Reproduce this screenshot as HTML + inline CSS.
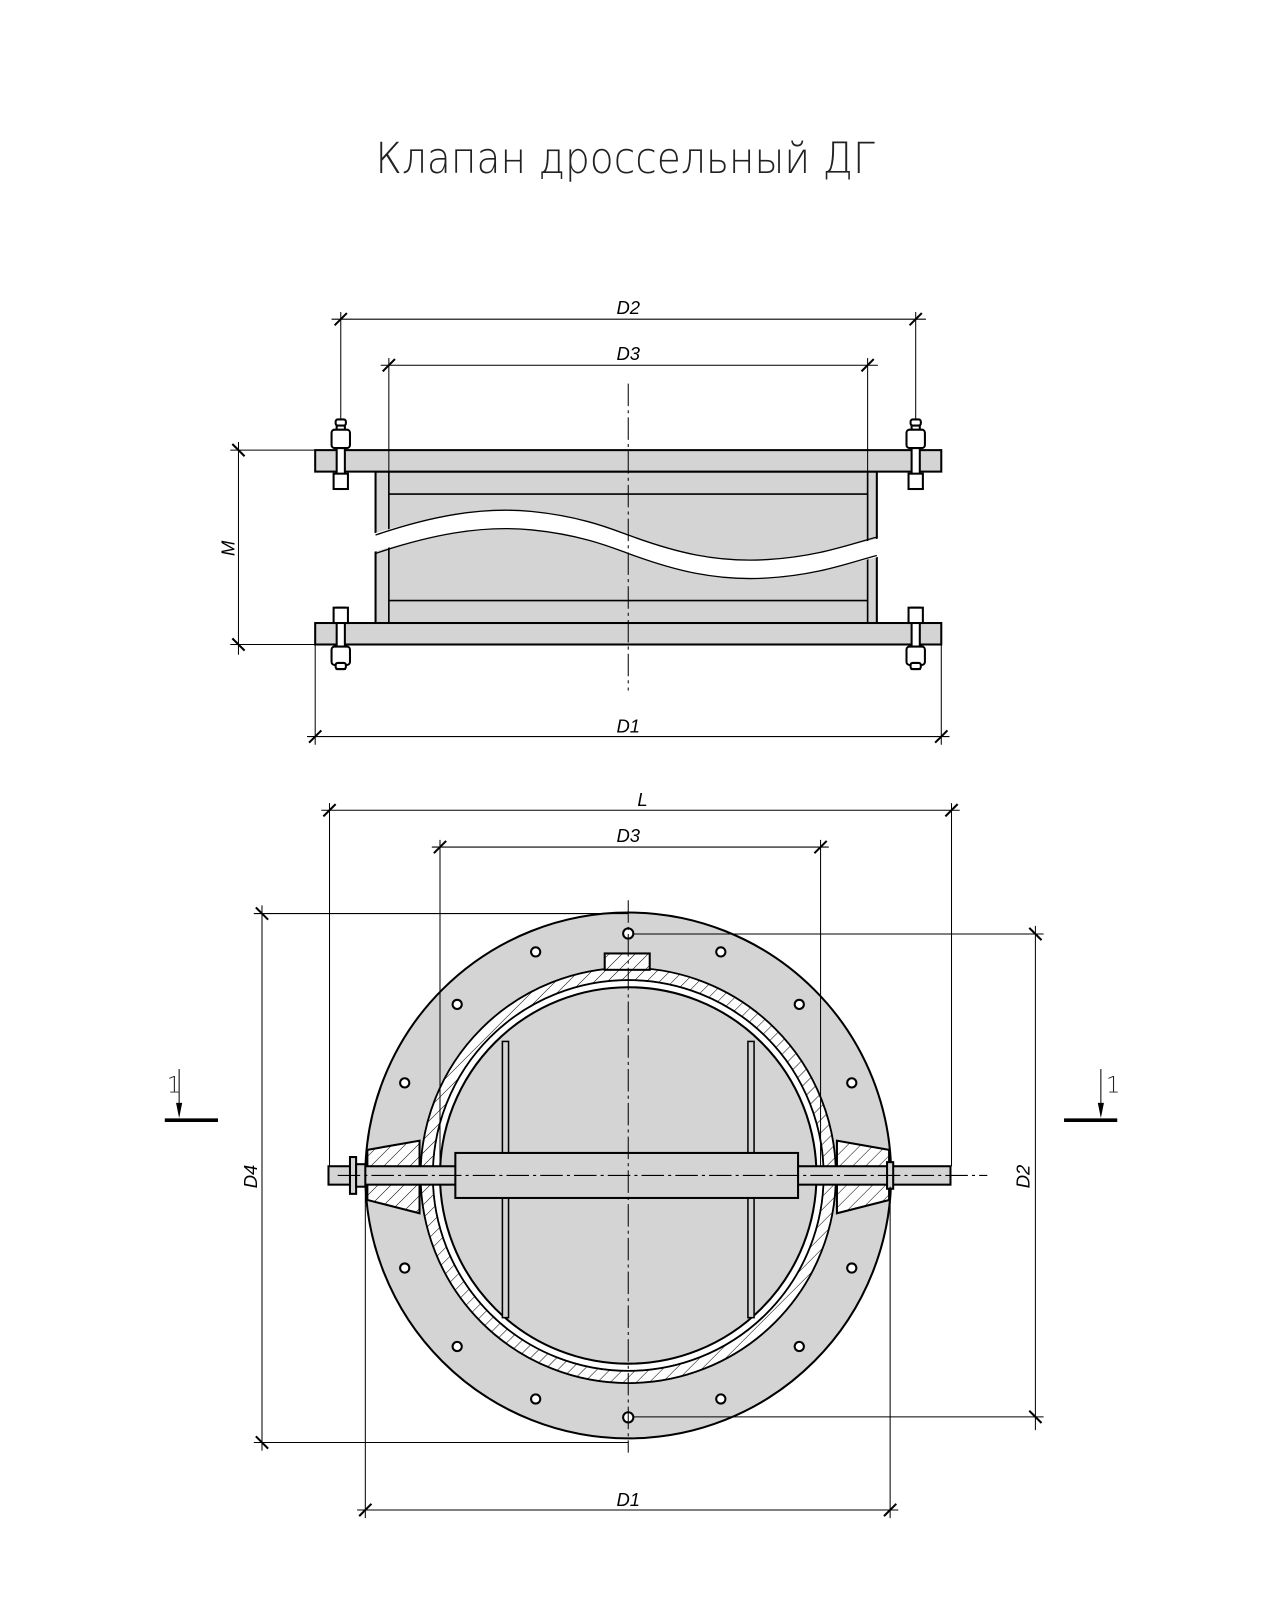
<!DOCTYPE html>
<html><head><meta charset="utf-8"><style>html,body{margin:0;padding:0;background:#fff}svg{display:block}</style></head><body>
<svg width="1280" height="1600" viewBox="0 0 1251 1564" xmlns="http://www.w3.org/2000/svg">
<defs>
<pattern id="h" patternUnits="userSpaceOnUse" width="9" height="9" patternTransform="rotate(45)">
<rect width="9" height="9" fill="#fff"/><line x1="0" y1="0" x2="0" y2="9" stroke="#000" stroke-width="1"/></pattern>
</defs>
<text x="611" y="169" font-family="DejaVu Sans, Liberation Sans, sans-serif" font-weight="200" font-size="42" text-anchor="middle" fill="#222" textLength="488" lengthAdjust="spacingAndGlyphs">Клапан дроссельный ДГ</text>

<g fill="#d4d4d4" stroke="#000" stroke-width="2">
<rect x="367" y="461" width="490" height="148"/>
<rect x="308" y="440" width="612" height="21"/>
<rect x="308" y="609" width="612" height="21"/>
</g>
<g stroke="#000" stroke-width="1.6" fill="none">
<line x1="380" y1="461" x2="380" y2="609"/><line x1="848" y1="461" x2="848" y2="609"/>
<line x1="380" y1="483" x2="848" y2="483"/><line x1="380" y1="587" x2="848" y2="587"/>
</g>
<path d="M360,523 C420,505 470,495 520,500 C570,505 600,518 614,523 C660,540 700,550 750,547 C800,544 830,532 865,525 L865,543 C830,550 800,562 750,565 C700,568 660,558 614,541 C600,536 570,523 520,518 C470,513 420,523 360,541 Z" fill="#fff"/>
<path d="M367,523 C420,505 470,495 520,500 C570,505 600,518 614,523 C660,540 700,550 750,547 C800,544 830,532 857,525 M367,541 C420,523 470,513 520,518 C570,523 600,536 614,541 C660,558 700,568 750,565 C800,562 830,550 857,543" fill="none" stroke="#000" stroke-width="1.3"/>
<line x1="614" y1="375" x2="614" y2="675" stroke="#000" stroke-width="1" stroke-dasharray="22,4,3,4"/>
<g fill="#fff" stroke="#000" stroke-width="2">
<g transform="translate(333,0)"><rect x="-4" y="412" width="8" height="66"/><rect x="-5" y="410" width="10" height="6" rx="2"/><rect x="-9" y="420" width="18" height="18" rx="3"/><rect x="-7" y="463" width="14" height="15"/></g>
<g transform="translate(895,0)"><rect x="-4" y="412" width="8" height="66"/><rect x="-5" y="410" width="10" height="6" rx="2"/><rect x="-9" y="420" width="18" height="18" rx="3"/><rect x="-7" y="463" width="14" height="15"/></g>
<g transform="translate(333,0)"><rect x="-4" y="594" width="8" height="60"/><rect x="-7" y="594" width="14" height="15"/><rect x="-9" y="632" width="18" height="18" rx="3"/><rect x="-5" y="648" width="10" height="6" rx="2"/></g>
<g transform="translate(895,0)"><rect x="-4" y="594" width="8" height="60"/><rect x="-7" y="594" width="14" height="15"/><rect x="-9" y="632" width="18" height="18" rx="3"/><rect x="-5" y="648" width="10" height="6" rx="2"/></g>
</g>
<g stroke="#000" stroke-width="1" fill="none">
<line x1="324" y1="312" x2="905" y2="312"/><line x1="333" y1="305" x2="333" y2="410"/><line x1="895" y1="305" x2="895" y2="410"/>
<line x1="372" y1="357" x2="858" y2="357"/><line x1="380" y1="350" x2="380" y2="461"/><line x1="848" y1="350" x2="848" y2="461"/>
<line x1="300" y1="720" x2="928" y2="720"/><line x1="308" y1="630" x2="308" y2="728"/><line x1="920" y1="630" x2="920" y2="728"/>
<line x1="233" y1="432" x2="233" y2="640"/><line x1="225" y1="440" x2="308" y2="440"/><line x1="225" y1="630" x2="308" y2="630"/>
</g>
<g stroke="#000" stroke-width="2">
<line x1="327" y1="318" x2="339" y2="306"/><line x1="889" y1="318" x2="901" y2="306"/>
<line x1="374" y1="363" x2="386" y2="351"/><line x1="842" y1="363" x2="854" y2="351"/>
<line x1="302" y1="726" x2="314" y2="714"/><line x1="914" y1="726" x2="926" y2="714"/>
<line x1="227" y1="434" x2="239" y2="446"/><line x1="227" y1="624" x2="239" y2="636"/>
</g>
<g font-family="Liberation Sans, sans-serif" font-size="18" font-style="italic" text-anchor="middle" fill="#000">
<text x="614" y="307">D2</text><text x="614" y="352">D3</text><text x="614" y="716">D1</text>
<text transform="translate(229,536) rotate(-90)">M</text>
</g>

<circle cx="614" cy="1149" r="257" fill="#d4d4d4" stroke="#000" stroke-width="2"/>
<circle cx="614" cy="1149" r="197" fill="none" stroke="url(#h)" stroke-width="12"/>
<circle cx="614" cy="1149" r="203" fill="none" stroke="#000" stroke-width="1.8"/>
<circle cx="614" cy="1149" r="191" fill="none" stroke="#000" stroke-width="1.8"/>
<circle cx="614" cy="1149" r="187.5" fill="none" stroke="#fff" stroke-width="5"/>
<circle cx="614" cy="1149" r="184" fill="#d4d4d4" stroke="#000" stroke-width="2"/>
<rect x="591" y="932" width="44" height="16" fill="url(#h)" stroke="#000" stroke-width="2"/>
<g fill="#fff" stroke="#000" stroke-width="2">
<circle cx="614" cy="912.5" r="5"/><circle cx="614" cy="1385.5" r="5"/>
<circle cx="523.5" cy="930.5" r="4.5"/><circle cx="704.5" cy="930.5" r="4.5"/>
<circle cx="446.8" cy="981.8" r="4.5"/><circle cx="781.2" cy="981.8" r="4.5"/>
<circle cx="395.5" cy="1058.5" r="4.5"/><circle cx="832.5" cy="1058.5" r="4.5"/>
<circle cx="395.5" cy="1239.5" r="4.5"/><circle cx="832.5" cy="1239.5" r="4.5"/>
<circle cx="446.8" cy="1316.2" r="4.5"/><circle cx="781.2" cy="1316.2" r="4.5"/>
<circle cx="523.5" cy="1367.5" r="4.5"/><circle cx="704.5" cy="1367.5" r="4.5"/>
</g>
<g fill="#d4d4d4" stroke="#000" stroke-width="1.5">
<rect x="491" y="1018" width="6" height="270"/><rect x="731" y="1018" width="6" height="270"/>
</g>
<g fill="url(#h)" stroke="#000" stroke-width="2">
<polygon points="359,1124 410,1115 410,1186 359,1173"/>
<polygon points="869,1124 818,1115 818,1186 869,1173"/>
</g>
<g fill="#d4d4d4" stroke="#000" stroke-width="2">
<rect x="321" y="1140" width="608" height="18"/>
<rect x="445" y="1127" width="335" height="44"/>
<rect x="342" y="1131" width="6" height="36"/><rect x="348" y="1138" width="9" height="22"/>
<rect x="867" y="1136" width="6" height="26"/>
</g>
<g stroke="#000" stroke-width="1" fill="none" stroke-dasharray="22,4,3,4">
<line x1="614" y1="880" x2="614" y2="1420"/><line x1="330" y1="1149" x2="965" y2="1149"/>
</g>
<g stroke="#000" stroke-width="1" fill="none">
<line x1="314" y1="792" x2="938" y2="792"/><line x1="322" y1="785" x2="322" y2="1140"/><line x1="930" y1="785" x2="930" y2="1140"/>
<line x1="422" y1="828" x2="810" y2="828"/><line x1="430" y1="821" x2="430" y2="1140"/><line x1="802" y1="821" x2="802" y2="1140"/>
<line x1="349" y1="1476" x2="878" y2="1476"/><line x1="357" y1="1160" x2="357" y2="1484"/><line x1="870" y1="1160" x2="870" y2="1484"/>
<line x1="256" y1="885" x2="256" y2="1418"/><line x1="248" y1="893" x2="614" y2="893"/><line x1="248" y1="1410" x2="614" y2="1410"/>
<line x1="1012" y1="905" x2="1012" y2="1398"/><line x1="619" y1="913" x2="1020" y2="913"/><line x1="619" y1="1385" x2="1020" y2="1385"/>
</g>
<g stroke="#000" stroke-width="2">
<line x1="316" y1="798" x2="328" y2="786"/><line x1="924" y1="798" x2="936" y2="786"/>
<line x1="424" y1="834" x2="436" y2="822"/><line x1="796" y1="834" x2="808" y2="822"/>
<line x1="351" y1="1482" x2="363" y2="1470"/><line x1="864" y1="1482" x2="876" y2="1470"/>
<line x1="250" y1="887" x2="262" y2="899"/><line x1="250" y1="1404" x2="262" y2="1416"/>
<line x1="1006" y1="907" x2="1018" y2="919"/><line x1="1006" y1="1379" x2="1018" y2="1391"/>
</g>
<g font-family="Liberation Sans, sans-serif" font-size="18" font-style="italic" text-anchor="middle" fill="#000">
<text x="628" y="788">L</text><text x="614" y="823">D3</text><text x="614" y="1472">D1</text>
<text transform="translate(251,1150) rotate(-90)">D4</text>
<text transform="translate(1006,1150) rotate(-90)">D2</text>
</g>
<g stroke="#000">
<line x1="161" y1="1095" x2="213" y2="1095" stroke-width="3.5"/>
<line x1="1040" y1="1095" x2="1092" y2="1095" stroke-width="3.5"/>
<line x1="175" y1="1045" x2="175" y2="1090" stroke-width="1"/>
<line x1="1076" y1="1045" x2="1076" y2="1090" stroke-width="1"/>
</g>
<polygon points="172,1078 178,1078 175,1093" fill="#000"/>
<polygon points="1073,1078 1079,1078 1076,1093" fill="#000"/>
<g font-family="DejaVu Sans, Liberation Sans, sans-serif" font-weight="200" font-size="22" fill="#222">
<text x="163" y="1068">1</text><text x="1081" y="1068">1</text>
</g>
</svg>
</body></html>
